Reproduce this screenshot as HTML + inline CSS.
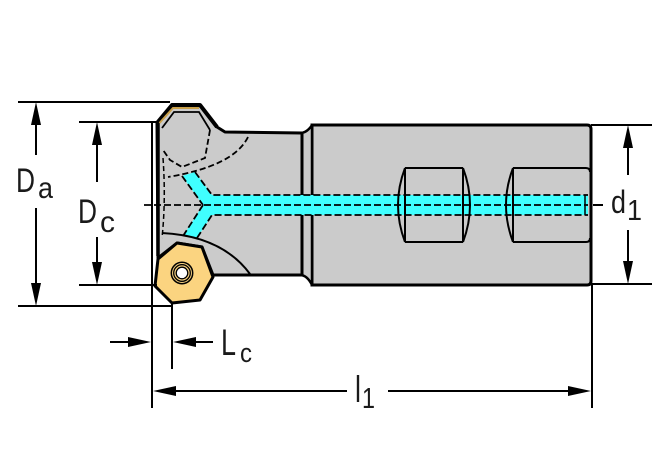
<!DOCTYPE html>
<html><head><meta charset="utf-8"><style>
html,body{margin:0;padding:0;background:#fff;}
svg{display:block;}
text{font-family:"Liberation Sans",sans-serif;fill:#1a1a1a;}
</style></head><body>
<svg width="670" height="460" viewBox="0 0 670 460" xmlns="http://www.w3.org/2000/svg">
<!-- shank -->
<path d="M312,125 L587,125 Q591,125 591,129 L591,281 Q591,285 587,285 L312,285 Z" fill="#cbcbcb" stroke="#000" stroke-width="3"/>
<!-- neck -->
<path d="M300,133 Q307,133 312,125 L312,285 Q307,275 300,275 Z" fill="#cbcbcb" stroke="#000" stroke-width="2.5" stroke-linejoin="round"/>
<line x1="302" y1="133" x2="302" y2="275" stroke="#000" stroke-width="2"/>
<!-- head body -->
<path d="M157,123 L172,105 L200,105 L217,127 L225,132 L302,133 L302,275 L213,275 L202,247 L177,243 L158,258 Z" fill="#cbcbcb" stroke="#000" stroke-width="3" stroke-linejoin="round"/>
<!-- left thick edge -->
<line x1="158" y1="123" x2="158" y2="256" stroke="#000" stroke-width="3.5"/>
<!-- top insert -->
<path d="M157,123 L172,105 L200,105 L217,127" fill="none" stroke="#000" stroke-width="4" stroke-linejoin="round"/>
<path d="M159.5,123 L173,108 L199,108" fill="none" stroke="#c9a04a" stroke-width="2"/>
<path d="M162,128 L174,112 L199,112 L210,130" fill="none" stroke="#000" stroke-width="1.8"/>
<path d="M210,130 L205,158 L182,167 L170,160 L163,150" fill="none" stroke="#000" stroke-width="1.8" stroke-dasharray="6,3"/>
<!-- dashed pocket curve -->
<path d="M248,137 Q234,166 168,177" fill="none" stroke="#000" stroke-width="1.8" stroke-dasharray="6,3"/>
<path d="M163,158 Q166,200 162,238" fill="none" stroke="#000" stroke-width="1.5" stroke-dasharray="5,3"/>
<!-- coolant channel -->
<path d="M182,176 L195,172 L212,195 L588,195 L588,215 L212,215 L197,238 L183,236 L203,205 Z" fill="#40ffff"/>
<g fill="none" stroke="#000" stroke-width="1.8" stroke-dasharray="7,3">
<path d="M182,176 L203,205"/>
<path d="M195,172 L212,195 L588,195"/>
<path d="M203,205 L183,236"/>
<path d="M197,238 L212,215 L588,215"/>
<path d="M144,205 L588,205"/>
</g>
<line x1="585" y1="195" x2="585" y2="215" stroke="#000" stroke-width="1.5"/>
<!-- lower pocket curve -->
<path d="M162,233 Q222,236 250,274" fill="none" stroke="#000" stroke-width="2"/>
<!-- radial holes -->
<g fill="none" stroke="#000" stroke-width="2">
<path d="M405,168 L463,168 M405,242 L463,242 M405,168 L405,242 M463,168 L463,242"/>
<path d="M405,168 Q391,205 405,242"/>
<path d="M463,168 Q477,205 463,242"/>
<path d="M513,168 L586,168 Q590,168 590,172 M513,242 L586,242 Q590,242 590,238 M513,168 L513,242"/>
<path d="M513,168 Q499,205 513,242"/>
</g>
<!-- lower insert -->
<path d="M158,259 L177,243 L202,247 L213,277 L200,300 L172,303 L155,286 Z" fill="#fbd480" stroke="#000" stroke-width="3" stroke-linejoin="round"/>
<circle cx="182" cy="273" r="10.7" fill="none" stroke="#000" stroke-width="1.5"/>
<circle cx="182" cy="273" r="8.3" fill="none" stroke="#000" stroke-width="1.3"/>
<circle cx="182" cy="273" r="5.8" fill="#fff" stroke="#000" stroke-width="1.3"/>
<!-- dimension & extension lines -->
<g stroke="#000" stroke-width="2" fill="none">
<line x1="18" y1="102" x2="170" y2="102"/>
<line x1="18" y1="306" x2="172" y2="306"/>
<line x1="79" y1="122" x2="157" y2="122"/>
<line x1="79" y1="285" x2="157" y2="285"/>
<line x1="591" y1="125" x2="652" y2="125"/>
<line x1="591" y1="284" x2="652" y2="284"/>
<line x1="152" y1="122" x2="152" y2="408"/>
<line x1="172" y1="303" x2="172" y2="369"/>
<line x1="592" y1="285" x2="592" y2="408"/>
<line x1="36" y1="120" x2="36" y2="155"/>
<line x1="36" y1="208" x2="36" y2="288"/>
<line x1="97" y1="140" x2="97" y2="182"/>
<line x1="97" y1="237" x2="97" y2="267"/>
<line x1="628" y1="143" x2="628" y2="175"/>
<line x1="628" y1="230" x2="628" y2="266"/>
<line x1="110" y1="342" x2="132" y2="342"/>
<line x1="192" y1="342" x2="213" y2="342"/>
<line x1="170" y1="391" x2="347" y2="391"/>
<line x1="388" y1="391" x2="574" y2="391"/>
<line x1="593" y1="205" x2="603" y2="205"/>
</g>
<g fill="#000">
<polygon points="36,102 31,125 41,125"/>
<polygon points="36,306 31,283 41,283"/>
<polygon points="97,122 92,145 102,145"/>
<polygon points="97,285 92,262 102,262"/>
<polygon points="628,125 623,148 633,148"/>
<polygon points="628,284 623,261 633,261"/>
<polygon points="151,342 128,337 128,347"/>
<polygon points="173,342 196,337 196,347"/>
<polygon points="153,391 176,386 176,396"/>
<polygon points="591,391 568,386 568,396"/>
</g>
<!-- labels -->
<text x="16" y="192" font-size="34" textLength="19" lengthAdjust="spacingAndGlyphs">D</text>
<text x="38" y="198" font-size="30" textLength="15" lengthAdjust="spacingAndGlyphs">a</text>
<text x="78" y="223" font-size="34" textLength="19" lengthAdjust="spacingAndGlyphs">D</text>
<text x="100" y="232" font-size="30" textLength="15" lengthAdjust="spacingAndGlyphs">c</text>
<text x="221" y="355" font-size="37" textLength="15" lengthAdjust="spacingAndGlyphs">L</text>
<text x="240" y="362" font-size="27" textLength="12" lengthAdjust="spacingAndGlyphs">c</text>
<text x="355" y="402" font-size="37" textLength="6" lengthAdjust="spacingAndGlyphs">l</text>
<text x="362" y="408" font-size="29" textLength="13" lengthAdjust="spacingAndGlyphs">1</text>
<text x="611" y="213" font-size="32" textLength="15" lengthAdjust="spacingAndGlyphs">d</text>
<text x="627" y="220" font-size="29" textLength="15" lengthAdjust="spacingAndGlyphs">1</text>
</svg>
</body></html>
